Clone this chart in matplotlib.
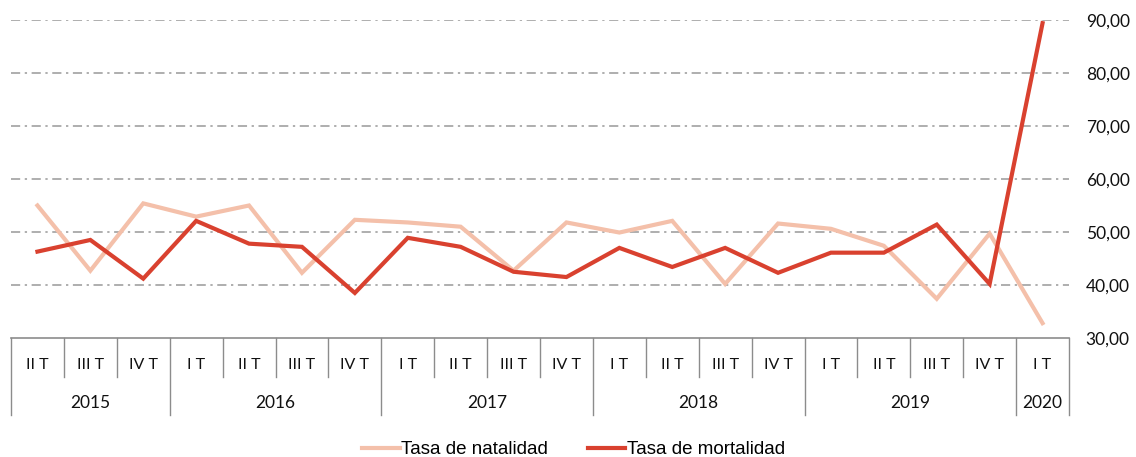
import numpy as np
import matplotlib
matplotlib.use("Agg")
from matplotlib import pyplot as plt
from matplotlib.transforms import blended_transform_factory

# quarters and years on the category axis
quarters = ["II T", "III T", "IV T",
            "I T", "II T", "III T", "IV T",
            "I T", "II T", "III T", "IV T",
            "I T", "II T", "III T", "IV T",
            "I T", "II T", "III T", "IV T",
            "I T"]
years = ["2015", "2016", "2017", "2018", "2019", "2020"]
quarters_per_year = [3, 4, 4, 4, 4, 1]

natalidad = [55.0, 42.7, 55.4, 52.9, 55.0, 42.3, 52.3, 51.8, 51.0, 42.7,
             51.8, 49.9, 52.1, 40.2, 51.6, 50.6, 47.4, 37.4, 49.7, 32.8]
mortalidad = [46.3, 48.5, 41.2, 52.1, 47.8, 47.2, 38.5, 48.9, 47.2, 42.5,
              41.5, 47.0, 43.4, 47.0, 42.3, 46.1, 46.1, 51.4, 40.2, 89.4]

y_ticks = [30, 40, 50, 60, 70, 80, 90]

c_nat = "#F4C0AA"
c_mort = "#D9412F"
c_grid = "#999999"
c_axis = "#8C8C8C"

fig = plt.figure(figsize=(11.36, 4.57), dpi=100)
ax = fig.add_axes([11 / 1136, 1 - 338 / 457, (1069 - 11) / 1136, (338 - 20) / 457])

x = np.arange(len(quarters))
ax.plot(x, natalidad, color=c_nat, lw=3, label="Tasa de natalidad", solid_joinstyle="miter")
ax.plot(x, mortalidad, color=c_mort, lw=3, label="Tasa de mortalidad", solid_joinstyle="miter")

ax.set_xlim(-0.5, len(quarters) - 0.5)
ax.set_ylim(30, 90)
ax.set_yticks(y_ticks)
ax.set_yticklabels([f"{v:.2f}".replace(".", ",") for v in y_ticks],
                   fontsize=12.5, family="Lato", color="#111111")
ax.yaxis.tick_right()
ax.tick_params(axis="y", length=0, pad=12)
ax.set_xticks([])

for v in y_ticks[1:]:
    ax.axhline(v, color=c_grid, lw=1.1, dashes=(6, 3, 1.5, 3), zorder=0)

for s in ["left", "right", "top"]:
    ax.spines[s].set_visible(False)
ax.spines["bottom"].set_color(c_axis)
ax.spines["bottom"].set_linewidth(1.2)

# two-level category axis
trans = blended_transform_factory(ax.transData, ax.transAxes)
q_y, yr_y = -0.085, -0.204
q_bot, yr_bot = -0.123, -0.242
for i, q in enumerate(quarters):
    ax.text(i, q_y, q, transform=trans, ha="center", va="center",
            fontsize=11.5, family="Lato", color="#111111")

bounds = np.cumsum([0] + quarters_per_year)
for i in range(len(quarters) + 1):
    b = i - 0.5
    low = yr_bot if i in bounds else q_bot
    ax.plot([b, b], [0, low], transform=trans, color=c_axis, lw=1.0, clip_on=False)

for k, yr in enumerate(years):
    mid = (bounds[k] + bounds[k + 1] - 1) / 2
    ax.text(mid, yr_y, yr, transform=trans, ha="center", va="center",
            fontsize=12.5, family="Lato", color="#111111")

fig.legend(loc="lower center", bbox_to_anchor=(0.505, -0.04), ncol=2, frameon=False,
           prop={"family": "Liberation Sans", "size": 13.5},
           handlelength=2.0, handletextpad=0.1, columnspacing=2.1)

fig.savefig("out.png", dpi=100)
